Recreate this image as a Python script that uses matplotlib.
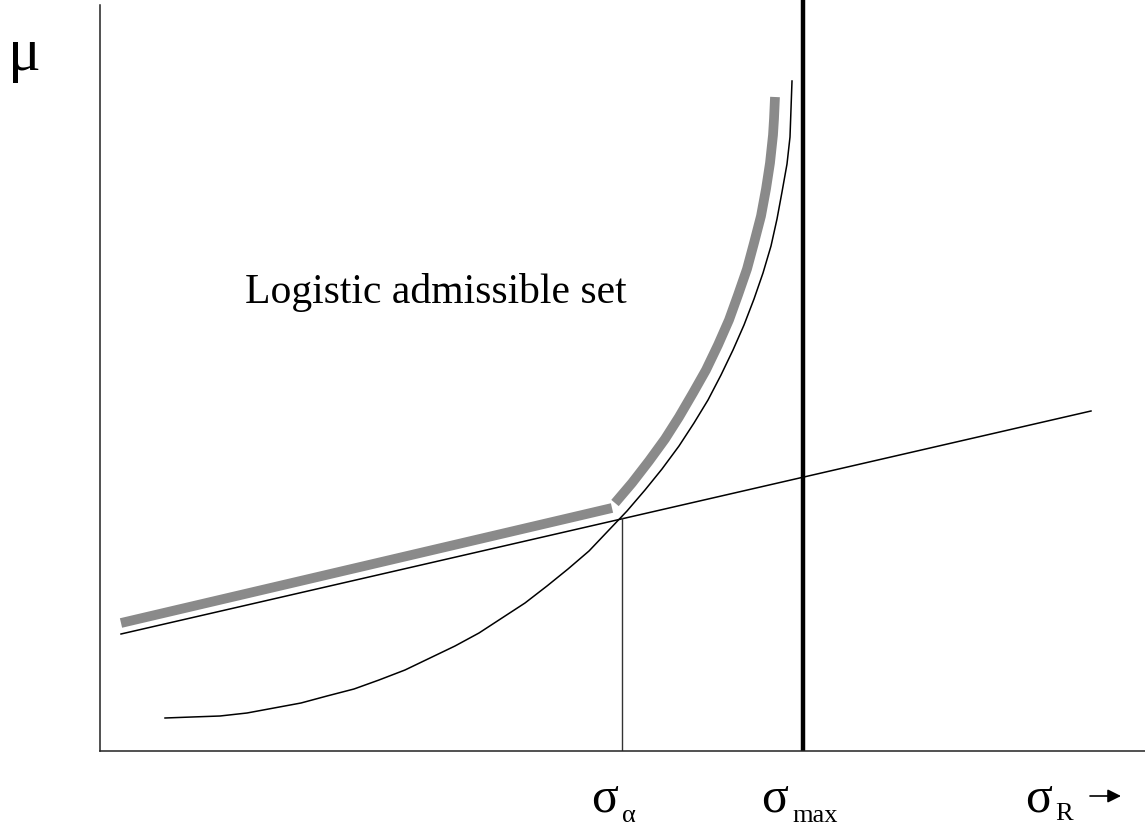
import matplotlib.pyplot as plt

plt.rcParams['font.family'] = ['Liberation Serif', 'DejaVu Serif']

W, H = 1145, 825

# efficient frontier (sigma, mu)
frontier_sigma = [0.65, 0.92, 1.20, 1.47, 1.74, 2.01, 2.27, 2.54, 2.79, 3.05,
                  3.30, 3.55, 3.79, 4.02, 4.25, 4.47, 4.68, 4.89, 5.08, 5.27,
                  5.45, 5.62, 5.79, 5.94, 6.08, 6.21, 6.33, 6.44, 6.54, 6.63,
                  6.71, 6.77, 6.82, 6.87, 6.90, 6.91, 6.92]
frontier_mu = [0.33, 0.34, 0.35, 0.38, 0.43, 0.48, 0.55, 0.62, 0.71, 0.81,
               0.93, 1.05, 1.18, 1.33, 1.48, 1.65, 1.82, 2.00, 2.20, 2.40,
               2.61, 2.82, 3.05, 3.28, 3.51, 3.76, 4.01, 4.26, 4.52, 4.78,
               5.05, 5.32, 5.59, 5.87, 6.14, 6.42, 6.70]

# straight line through the tangency point
line_sigma = [0.21, 9.91]
line_mu = [1.17, 3.40]

# boundary of the logistic admissible set (two grey pieces)
bound_line_sigma = [0.21, 5.12]
bound_line_mu = [1.28, 2.43]
bound_curve_sigma = [5.15, 5.32, 5.49, 5.65, 5.79, 5.93, 6.06, 6.18, 6.29,
                     6.38, 6.47, 6.54, 6.61, 6.66, 6.70, 6.73, 6.74, 6.75]
bound_curve_mu = [2.48, 2.68, 2.90, 3.12, 3.34, 3.58, 3.81, 4.06, 4.31,
                  4.56, 4.82, 5.08, 5.35, 5.62, 5.88, 6.16, 6.32, 6.54]

sigma_alpha = 5.22
mu_alpha = 2.33
sigma_max = 7.03


def fpos(px, py):
    return px / W, 1 - py / H


fig = plt.figure(figsize=(W / 100, H / 100), dpi=100)
ax = fig.add_axes([100 / W, (H - 751) / H, (W - 100) / W, 751 / H])
ax.set_xlim(0, 10.45)
ax.set_ylim(0, 7.51)

grey = '#8a8a8a'
ax.plot(bound_line_sigma, bound_line_mu, color=grey, lw=7, solid_capstyle='butt')
ax.plot(bound_curve_sigma, bound_curve_mu, color=grey, lw=7,
        solid_capstyle='butt', solid_joinstyle='round')

ax.plot(frontier_sigma, frontier_mu, color='black', lw=1.1, solid_joinstyle='round')
ax.plot(line_sigma, line_mu, color='black', lw=1.1)
ax.plot([sigma_alpha, sigma_alpha], [0, mu_alpha], color='#333333', lw=1.0)
ax.axvline(sigma_max, color='black', lw=3.2)

ax.text(3.36, 4.58, 'Logistic admissible set', fontsize=30, ha='center', va='center')

for side in ['top', 'right']:
    ax.spines[side].set_visible(False)
ax.spines['left'].set_bounds(0, 7.46)
for side in ['left', 'bottom']:
    ax.spines[side].set_color('#222222')
    ax.spines[side].set_linewidth(1.1)
ax.set_xticks([])
ax.set_yticks([])

# axis labels
fig.text(*fpos(8, 70), '\u03bc', fontsize=44, va='baseline')
fig.text(*fpos(591, 812), '\u03c3', fontsize=36, va='baseline')
fig.text(*fpos(622, 822), '\u03b1', fontsize=19, va='baseline')
fig.text(*fpos(761, 812), '\u03c3', fontsize=36, va='baseline')
fig.text(*fpos(792, 822), 'max', fontsize=19, va='baseline')
fig.text(*fpos(1025, 812), '\u03c3', fontsize=36, va='baseline')
fig.text(*fpos(1055, 820), 'R', fontsize=19, va='baseline')
ax.annotate('', xy=fpos(1121, 796), xytext=fpos(1090, 796),
            xycoords='figure fraction', textcoords='figure fraction',
            arrowprops=dict(arrowstyle='-|>', color='black', lw=1.2,
                            mutation_scale=20, shrinkA=0, shrinkB=0))

fig.savefig('out.png', dpi=100)
